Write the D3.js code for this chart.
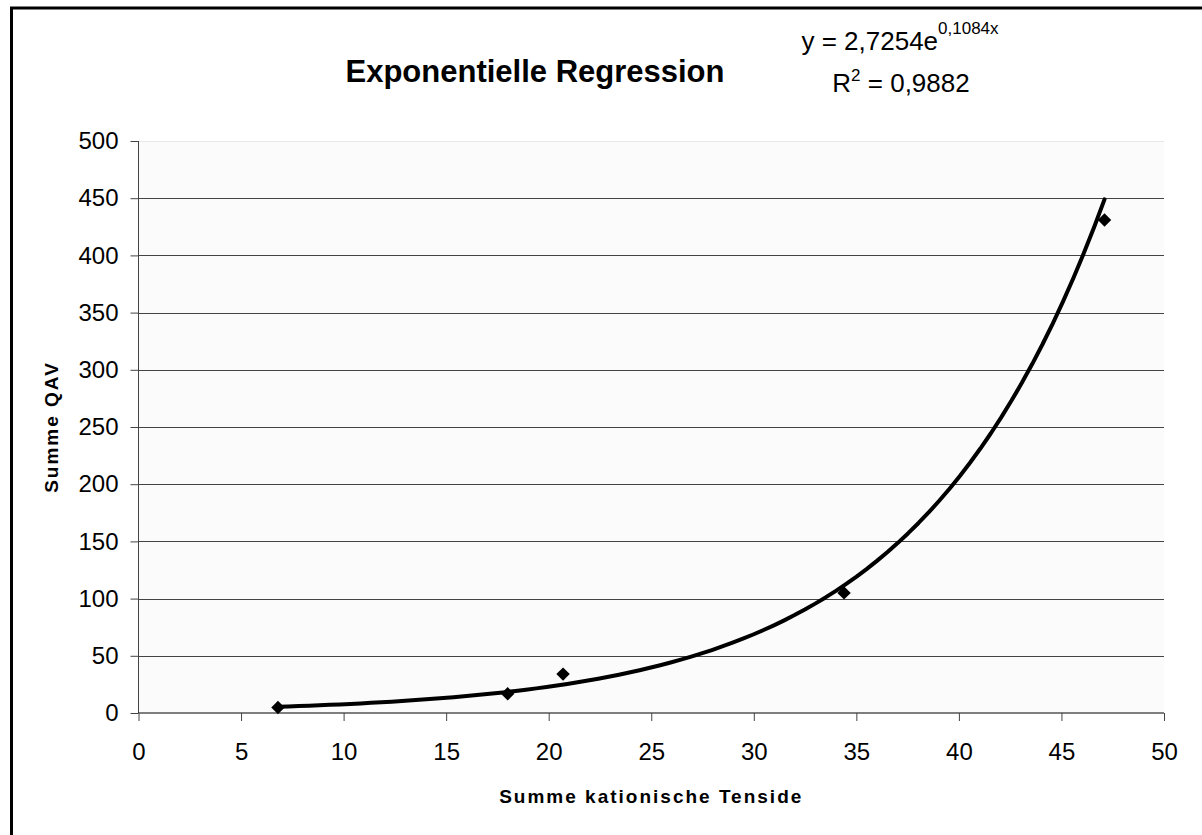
<!DOCTYPE html>
<html>
<head>
<meta charset="utf-8">
<script src="https://cdn.jsdelivr.net/npm/d3@7/dist/d3.min.js"></script>
<style>
  html, body { margin: 0; padding: 0; background: #fff; }
  svg { display: block; font-family: "Liberation Sans", Arial, sans-serif; }
</style>
</head>
<body>
<svg id="chart" width="1202" height="835"></svg>
<script>
// ---- data ----
const xValues = [6.8, 18.0, 20.7, 34.4, 47.1];   // Summe kationische Tenside
const yValues = [4.8, 16.8, 34, 105, 431];       // Summe QAV
const xTicks = [0, 5, 10, 15, 20, 25, 30, 35, 40, 45, 50];
const yTicks = [0, 50, 100, 150, 200, 250, 300, 350, 400, 450, 500];
const titleText = "Exponentielle Regression";
const xTitle = "Summe kationische Tenside";
const yTitle = "Summe QAV";
const eqMain = "y = 2,7254e";
const eqSup = "0,1084x";
const r2Main = "R";
const r2Sup = "2";
const r2Rest = " = 0,9882";

(function () {
// ---- layout ----
const svg = d3.select("#chart");
const pL = 138.5, pR = 1164, pT = 141, pB = 713;
const x = d3.scaleLinear().domain([0, 50]).range([pL, pR]);
const y = d3.scaleLinear().domain([0, 500]).range([pB, pT]);
const FONT = "'Liberation Sans', Arial, sans-serif";

// outer frame
svg.append("rect").attr("x", 11.5).attr("y", 8).attr("width", 1400).attr("height", 1000)
  .attr("fill", "#fff").attr("stroke", "#000").attr("stroke-width", 3);

// plot area
svg.append("rect").attr("x", pL).attr("y", pT).attr("width", pR - pL).attr("height", pB - pT)
  .attr("fill", "#fbfbfb");

// gridlines
svg.append("g").selectAll("line").data(yTicks.filter(d => d > 0)).join("line")
  .attr("x1", pL).attr("x2", pR)
  .attr("y1", d => Math.round(y(d)) + 0.5).attr("y2", d => Math.round(y(d)) + 0.5)
  .attr("stroke", d => d === 500 ? "#e8e8e8" : "#444").attr("stroke-width", 1);

// y axis
const yAxis = svg.append("g").attr("transform", `translate(${pL},0)`)
  .call(d3.axisLeft(y).tickValues(yTicks).tickSize(8).tickPadding(12).tickFormat(d3.format("d")));
yAxis.select(".domain").attr("stroke", "#444").attr("d", `M0,${pT}V${pB}`);
yAxis.selectAll(".tick line").attr("stroke", "#444");
yAxis.selectAll("text").attr("font-size", 24).attr("fill", "#000").attr("font-family", FONT);

// x axis
const xAxis = svg.append("g").attr("transform", `translate(0,${pB})`)
  .call(d3.axisBottom(x).tickValues(xTicks).tickSize(8).tickPadding(22).tickFormat(d3.format("d")));
xAxis.select(".domain").attr("stroke", "#000").attr("d", `M${pL},0H${pR}`);
xAxis.selectAll(".tick line").attr("stroke", "#444");
xAxis.selectAll("text").attr("font-size", 24).attr("fill", "#000").attr("font-family", FONT);

// exponential regression computed from the data (least squares on ln y)
const ly = yValues.map(v => Math.log(v));
const mx = d3.mean(xValues), my = d3.mean(ly);
const sxy = d3.sum(xValues.map((v, i) => (v - mx) * (ly[i] - my)));
const sxx = d3.sum(xValues.map(v => (v - mx) ** 2));
const b = sxy / sxx, a = Math.exp(my - b * mx);
const [xmin, xmax] = d3.extent(xValues);
const curve = d3.range(0, 81).map(i => {
  const xv = xmin + (xmax - xmin) * i / 80;
  return [xv, a * Math.exp(b * xv)];
});
svg.append("path").datum(curve)
  .attr("d", d3.line().x(d => x(d[0])).y(d => y(d[1])))
  .attr("fill", "none").attr("stroke", "#000").attr("stroke-width", 4)
  .attr("stroke-linejoin", "round").attr("stroke-linecap", "round");

// markers
svg.append("g").selectAll("path").data(xValues.map((v, i) => [v, yValues[i]])).join("path")
  .attr("d", d3.symbol(d3.symbolSquare, 90))
  .attr("transform", d => `translate(${x(d[0])},${y(d[1])}) rotate(45)`)
  .attr("fill", "#000");

// title
svg.append("text").attr("x", 535).attr("y", 82).attr("text-anchor", "middle")
  .attr("font-size", 31).attr("font-weight", "bold").text(titleText);

// equation
const eq = svg.append("text").attr("x", 900).attr("y", 50).attr("text-anchor", "middle").attr("font-size", 26);
eq.append("tspan").text(eqMain);
eq.append("tspan").attr("font-size", 17).attr("dy", -16).text(eqSup);
const r2 = svg.append("text").attr("x", 901).attr("y", 92).attr("text-anchor", "middle").attr("font-size", 26);
r2.append("tspan").text(r2Main);
r2.append("tspan").attr("font-size", 17).attr("dy", -11).text(r2Sup);
r2.append("tspan").attr("dy", 11).text(r2Rest);

// axis titles
svg.append("text").attr("x", (pL + pR) / 2).attr("y", 803).attr("text-anchor", "middle")
  .attr("font-size", 19).attr("font-weight", "bold").attr("letter-spacing", 2).text(xTitle);
svg.append("text").attr("transform", `translate(58,${(pT + pB) / 2}) rotate(-90)`)
  .attr("text-anchor", "middle").attr("font-size", 19).attr("font-weight", "bold")
  .attr("letter-spacing", 2).text(yTitle);
})();
</script>
</body>
</html>
